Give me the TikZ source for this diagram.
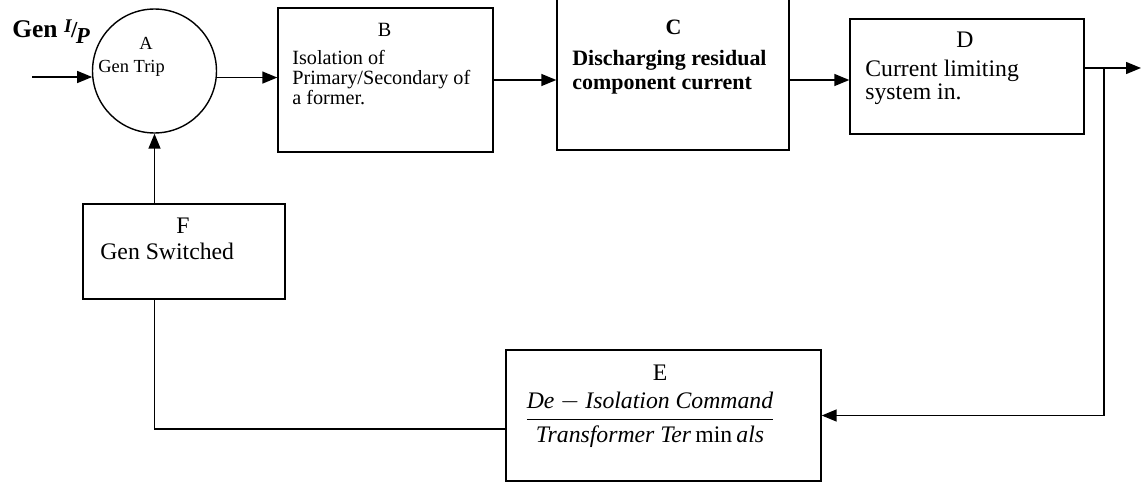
\documentclass[tikz,border=0pt]{standalone}
\usepackage{fontspec}
\setmainfont{Liberation Serif}
\usepackage{amsmath}
\usetikzlibrary{arrows.meta}

\begin{document}
\begin{tikzpicture}[x=0.02cm, y=-0.02cm,
    roundnode/.style={circle, draw=black, line width=0.8pt, minimum size=2.48cm, inner sep=0pt},
    boxnode/.style={rectangle, draw=black, line width=0.8pt, inner sep=0pt},
    flow/.style={-{Triangle[length=0.3cm,width=0.24cm]}, line width=0.8pt},
    lab/.style={inner sep=0pt, anchor=north},
    txt/.style={inner sep=0pt, align=left, anchor=north west}]
    \useasboundingbox (0,0) rectangle (1143,483);

    % blocks
    \node[roundnode] (A) at (154.5,71) {};
    \node[boxnode, minimum width=4.3cm, minimum height=2.88cm] (B) at (385.5,80) {};
    \node[boxnode, minimum width=4.64cm, minimum height=3.04cm] (C) at (673,74) {};
    \node[boxnode, minimum width=4.68cm, minimum height=2.3cm] (D) at (967,76.5) {};
    \node[boxnode, minimum width=6.3cm, minimum height=2.62cm] (E) at (663.5,415.5) {};
    \node[boxnode, minimum width=4.04cm, minimum height=1.9cm] (F) at (184,251.5) {};

    % texts
    \node[inner sep=0pt, anchor=base west, font=\fontsize{14.5}{16}\selectfont\bfseries] (Gin) at (12,38)
        {Gen \raisebox{0.5ex}{\fontsize{11}{11}\selectfont\textit{I}}\kern-0.5pt{\fontsize{13}{13}\selectfont/}\kern-1pt\raisebox{-0.45ex}{\fontsize{13}{13}\selectfont\textit{P}}};
    \node[lab, font=\fontsize{10.5}{12}\selectfont] (Alab) at (146,37) {A};
    \node[txt, font=\fontsize{10.5}{12}\selectfont] (Atxt) at (98,60) {Gen Trip};
    \node[lab, font=\fontsize{11.5}{12}\selectfont] (Blab) at (384.5,23) {B};
    \node[txt, font=\fontsize{11.5}{11.4}\selectfont] (Btxt) at (292,50) {Isolation of\\Primary/Secondary of\\a former.};
    \node[lab, font=\fontsize{12.5}{13.7}\selectfont\bfseries] (Clab) at (673.5,20) {C};
    \node[txt, font=\fontsize{12.5}{13.7}\selectfont\bfseries] (Ctxt) at (572,50) {Discharging residual\\component current};
    \node[lab, font=\fontsize{13.5}{13.1}\selectfont] (Dlab) at (965,32) {D};
    \node[txt, font=\fontsize{13.5}{13.1}\selectfont] (Dtxt) at (865,60) {Current limiting\\system in.};
    \node[lab, font=\fontsize{13.5}{14}\selectfont] (Elab) at (660,365) {E};
    \node[inner sep=0pt, font=\fontsize{13.5}{15}\selectfont] (Etxt) at (650,420)
        {$\dfrac{\textit{De} - \textit{Isolation Command}}{\textit{Transformer Ter}\,\textup{min}\,\textit{als}}$};
    \node[lab, font=\fontsize{13.5}{14}\selectfont] (Flab) at (183,218) {F};
    \node[txt, font=\fontsize{13.5}{14}\selectfont] (Ftxt) at (100,243) {Gen Switched};

    % connectors
    \coordinate (in) at (32,77);
    \coordinate (out) at (1141,68);
    \coordinate (br) at (1104,68);
    \coordinate (fb) at (154.5,429);

    \draw[flow] (in) -- (in -| A.186);
    \draw[flow] (A.-6) -- (A.-6 -| B.west);
    \draw[flow] (B.east) -- (C.west |- B.east);
    \draw[flow] (C.east |- B.east) -- (D.west |- B.east);
    \draw[flow] (D.east |- out) -- (out);
    \draw[flow] (br) |- (E.east);
    \draw[line width=0.8pt] (E.west |- fb) -- (fb) -- (F.south -| fb);
    \draw[flow] (F.north -| fb) -- (A.south);

\end{tikzpicture}
\end{document}
